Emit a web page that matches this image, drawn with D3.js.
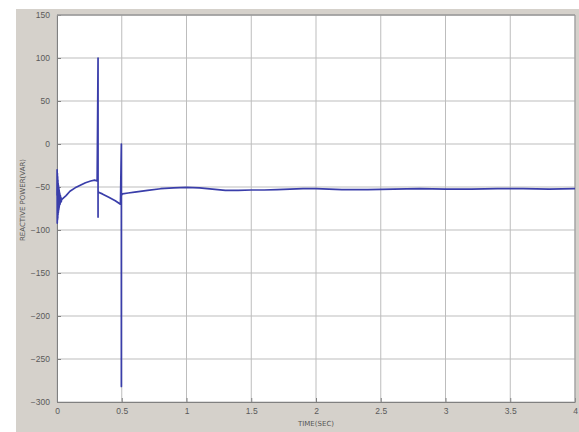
<!DOCTYPE html>
<html>
<head>
<meta charset="utf-8">
<script src="https://cdn.jsdelivr.net/npm/d3@7"></script>
<style>
  body { margin: 0; background: #fff; }
  svg { display: block; font-family: "DejaVu Sans", Arial, sans-serif; }
</style>
</head>
<body>
<div id="chart"></div>
<script>
// time (s) and reactive power (VAR)
const timeSec = [
  0, 0.001, 0.002, 0.003, 0.004, 0.005, 0.006, 0.007, 0.008, 0.009, 0.010, 0.011,
  0.012, 0.013, 0.014, 0.015, 0.016, 0.017, 0.018, 0.019, 0.020, 0.022, 0.024, 0.026,
  0.028, 0.030, 0.033, 0.036,
  0.04, 0.07, 0.10, 0.14, 0.18, 0.22, 0.26, 0.29, 0.31,
  0.317, 0.317, 0.317, 0.32, 0.35, 0.40, 0.45, 0.49,
  0.497, 0.497, 0.497, 0.505, 0.55, 0.6, 0.7, 0.8, 0.9, 1.0,
  1.1, 1.2, 1.3, 1.4, 1.5, 1.6, 1.7, 1.8, 1.9, 2.0,
  2.2, 2.4, 2.6, 2.8, 3.0, 3.2, 3.4, 3.6, 3.8, 4.0
];
const reactivePower = [
  -60, -30, -92, -34, -88, -38, -86, -42, -82, -46, -80, -48,
  -78, -50, -76, -52, -74, -54, -72, -56, -71, -58, -70, -60,
  -68, -62, -67, -64,
  -64, -60, -55, -51, -48, -45, -43, -42, -43,
  100, -85, -54, -56, -58, -62, -66, -70,
  0, -282, -60, -58, -57, -56, -54, -52, -51, -50.5,
  -51, -52.5, -54, -54, -53.5, -53.5, -53, -52.5, -52, -52,
  -53, -53, -52.5, -52, -52.5, -52.5, -52, -52, -52.5, -52
];
const xTicks = [0, 0.5, 1, 1.5, 2, 2.5, 3, 3.5, 4];
const yTicks = [-300, -250, -200, -150, -100, -50, 0, 50, 100, 150];
const xTitle = "TIME(SEC)";
const yTitle = "REACTIVE POWER(VAR)";

const W = 579, H = 432;
const margin = {top: 15, right: 4, bottom: 30, left: 57};
const width = W - margin.left - margin.right;
const height = H - margin.top - margin.bottom;

const svg = d3.select("#chart").append("svg")
    .attr("width", W)
    .attr("height", H);

// grey figure background
svg.append("rect")
    .attr("x", 16).attr("y", 9)
    .attr("width", W - 16).attr("height", H - 9)
    .attr("fill", "#d5d1cb");

const g = svg.append("g")
    .attr("transform", "translate(" + margin.left + "," + margin.top + ")");

const xScale = d3.scaleLinear().domain([0, 4]).range([0, width]);
const yScale = d3.scaleLinear().domain([-300, 150]).range([height, 0]);

g.append("rect")
    .attr("width", width).attr("height", height)
    .attr("fill", "#ffffff");

// grid
g.append("g").attr("class", "xGrid")
    .selectAll("line").data(xTicks).join("line")
    .attr("x1", d => xScale(d)).attr("x2", d => xScale(d))
    .attr("y1", 0).attr("y2", height)
    .attr("stroke", "#bdbdbd").attr("stroke-width", 1);
g.append("g").attr("class", "yGrid")
    .selectAll("line").data(yTicks).join("line")
    .attr("x1", 0).attr("x2", width)
    .attr("y1", d => yScale(d)).attr("y2", d => yScale(d))
    .attr("stroke", "#bdbdbd").attr("stroke-width", 1);

// axes
const xAxisG = g.append("g")
    .attr("class", "xAxisG")
    .attr("transform", "translate(0," + height + ")")
    .call(d3.axisBottom(xScale).tickValues(xTicks).tickSize(4).tickSizeOuter(0).tickFormat(d3.format("")));
const yAxisG = g.append("g")
    .attr("class", "yAxisG")
    .call(d3.axisLeft(yScale).tickValues(yTicks).tickSize(4).tickSizeOuter(0).tickFormat(d3.format("")));

[xAxisG, yAxisG].forEach(a => {
    a.select(".domain").attr("stroke", "#808080");
    a.selectAll(".tick line").attr("stroke", "#808080");
    a.selectAll(".tick text").attr("fill", "#5a5a5a").attr("font-size", 8.5);
});
xAxisG.selectAll(".tick line").attr("transform", "translate(0,-4)");
yAxisG.selectAll(".tick line").attr("transform", "translate(4,0)");
xAxisG.selectAll(".tick text").attr("dy", "0.55em");

// top and right frame
g.append("line").attr("x1", 0).attr("x2", width).attr("y1", 0).attr("y2", 0)
    .attr("stroke", "#999").attr("stroke-width", 1.5);
g.append("line").attr("x1", width).attr("x2", width).attr("y1", 0).attr("y2", height)
    .attr("stroke", "#999");

// series
const pts = timeSec.map((t, i) => ({t: t, v: reactivePower[i]}));
const line = d3.line()
    .x(d => xScale(d.t))
    .y(d => yScale(d.v));
g.append("path")
    .datum(pts)
    .attr("fill", "none")
    .attr("stroke", "#3a3eaa")
    .attr("stroke-width", 1.7)
    .attr("stroke-linejoin", "round")
    .attr("d", line);

// titles
g.append("text")
    .attr("x", width / 2).attr("y", height + 24)
    .attr("text-anchor", "middle")
    .attr("font-size", 7).attr("fill", "#555")
    .text(xTitle);
svg.append("text")
    .attr("transform", "translate(25," + 200 + ") rotate(-90)")
    .attr("text-anchor", "middle")
    .attr("font-size", 7).attr("fill", "#555")
    .text(yTitle);
</script>
</body>
</html>
